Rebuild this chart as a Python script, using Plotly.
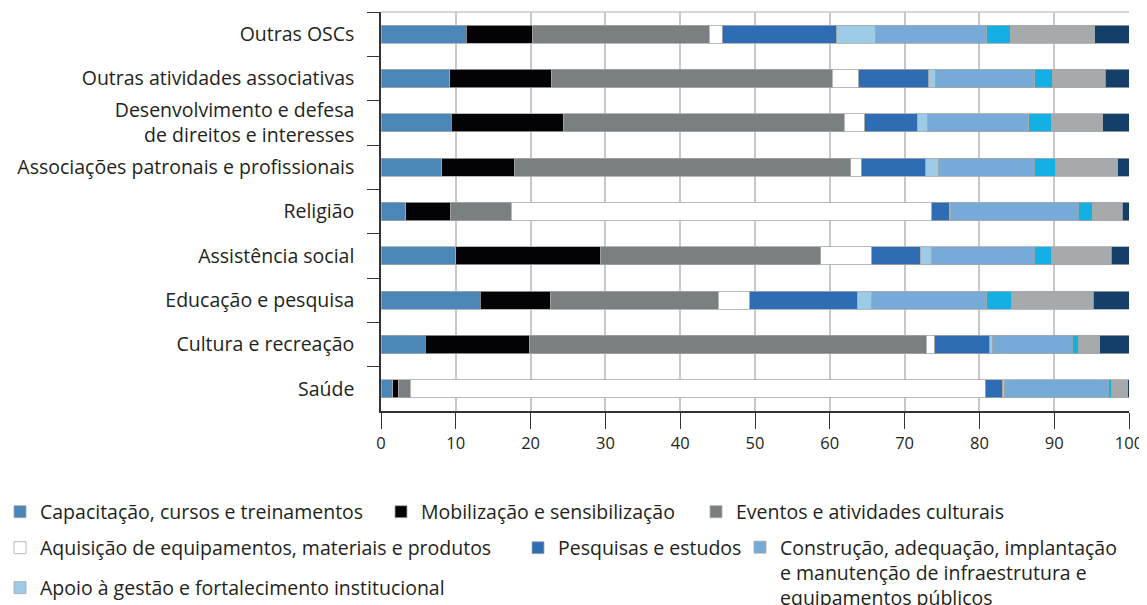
import plotly.graph_objects as go

categorias = [
    "Outras OSCs",
    "Outras atividades associativas",
    "Desenvolvimento e defesa<br>de direitos e interesses",
    "Associações patronais e profissionais",
    "Religião",
    "Assistência social",
    "Educação e pesquisa",
    "Cultura e recreação",
    "Saúde",
]

capacitacao = [11.4, 9.2, 9.4, 8.1, 3.3, 10.0, 13.3, 5.9, 1.6]
mobilizacao = [8.8, 13.6, 15.0, 9.8, 6.0, 19.3, 9.4, 14.0, 0.8]
eventos = [23.7, 37.5, 37.5, 44.9, 8.1, 29.5, 22.4, 53.0, 1.5]
aquisicao = [1.7, 3.6, 2.8, 1.4, 56.2, 6.8, 4.2, 1.1, 76.9]
pesquisas = [15.3, 9.3, 7.0, 8.6, 2.4, 6.5, 14.4, 7.4, 2.3]
apoio = [5.2, 0.9, 1.4, 1.7, 0.2, 1.5, 1.9, 0.3, 0.2]
construcao = [14.9, 13.3, 13.5, 12.8, 17.0, 13.7, 15.4, 10.7, 13.9]
outra_a = [3.1, 2.4, 3.0, 2.9, 1.9, 2.3, 3.3, 0.9, 0.5]
outra_b = [11.3, 7.0, 6.9, 8.3, 4.0, 8.0, 10.9, 2.8, 2.1]
outra_c = [4.6, 3.2, 3.5, 1.5, 0.9, 2.4, 4.8, 3.9, 0.2]

series = [
    ("Capacitação, cursos e treinamentos", capacitacao, "#4a86b8", "legend"),
    ("Mobilização e sensibilização", mobilizacao, "#030305", "legend2"),
    ("Eventos e atividades culturais", eventos, "#7a8082", "legend3"),
    ("Aquisição de equipamentos, materiais e produtos", aquisicao, "#ffffff", "legend4"),
    ("Pesquisas e estudos", pesquisas, "#2e6db4", "legend5"),
    ("Apoio à gestão e fortalecimento institucional", apoio, "#9dcbe6", "legend7"),
    ("Construção, adequação, implantação<br>e manutenção de infraestrutura e<br>equipamentos públicos", construcao, "#78aad8", "legend6"),
    ("Outras (a)", outra_a, "#14afe3", None),
    ("Outras (b)", outra_b, "#a6aaac", None),
    ("Outras (c)", outra_c, "#143f68", None),
]

FONT = "Open Sans"
TXT = "#231f20"
LBL = 19.5

fig = go.Figure()
for name, vals, color, leg in series:
    kw = dict(showlegend=False) if leg is None else dict(legend=leg)
    fig.add_trace(go.Bar(
        name=name, x=vals, y=categorias, orientation="h",
        marker=dict(color=color, line=dict(color="#a8a8a8", width=0.8)),
        **kw,
    ))

# figure sits 8px inside the page (body margin)
W, H = 1139, 597

def leg(xpx, ypx, yanchor="middle", valign="middle", indent=0):
    return dict(
        x=max(xpx, 0) / W, y=1 - ypx / H, xref="container", yref="container",
        xanchor="left", yanchor=yanchor, orientation="h", valign=valign,
        bgcolor="rgba(0,0,0,0)", font=dict(family=FONT, size=LBL, color=TXT),
        itemclick=False, tracegroupgap=0, indentation=indent,
    )

fig.update_layout(
    width=W, height=H,
    barmode="stack", bargap=0.59,
    paper_bgcolor="white", plot_bgcolor="white",
    margin=dict(l=373, r=16, t=4, b=194),
    font=dict(family=FONT, size=16, color=TXT),
    legend=leg(0, 504, indent=-8),
    legend2=leg(373, 504),
    legend3=leg(688, 504),
    legend4=leg(0, 540, indent=-8),
    legend5=leg(510, 540),
    legend6=leg(732, 520, yanchor="top", valign="top"),
    legend7=leg(0, 580, indent=-8),
    xaxis=dict(
        range=[0, 100], dtick=10, tick0=0,
        showgrid=True, gridcolor="#c8c8c8", gridwidth=1.5,
        zeroline=False, showline=True, linecolor="#333333", linewidth=1.5,
        ticks="outside", ticklen=16, tickcolor="#333333", tickwidth=1.2,
        tickfont=dict(family=FONT, size=16.5, color=TXT),
    ),
    yaxis=dict(
        categoryorder="array", categoryarray=categorias, autorange="reversed",
        showgrid=False, showline=True, linecolor="#333333", linewidth=1.5,
        ticks="outside", tickson="boundaries", ticklen=12, tickcolor="#333333",
        tickwidth=1.2, ticklabelstandoff=21,
        tickfont=dict(family=FONT, size=LBL, color=TXT),
    ),
    shapes=[dict(type="line", xref="paper", yref="paper", x0=0, x1=1, y0=1, y1=1,
                 line=dict(color="#c8c8c8", width=1.5))],
)

fig.write_html("out.html")
